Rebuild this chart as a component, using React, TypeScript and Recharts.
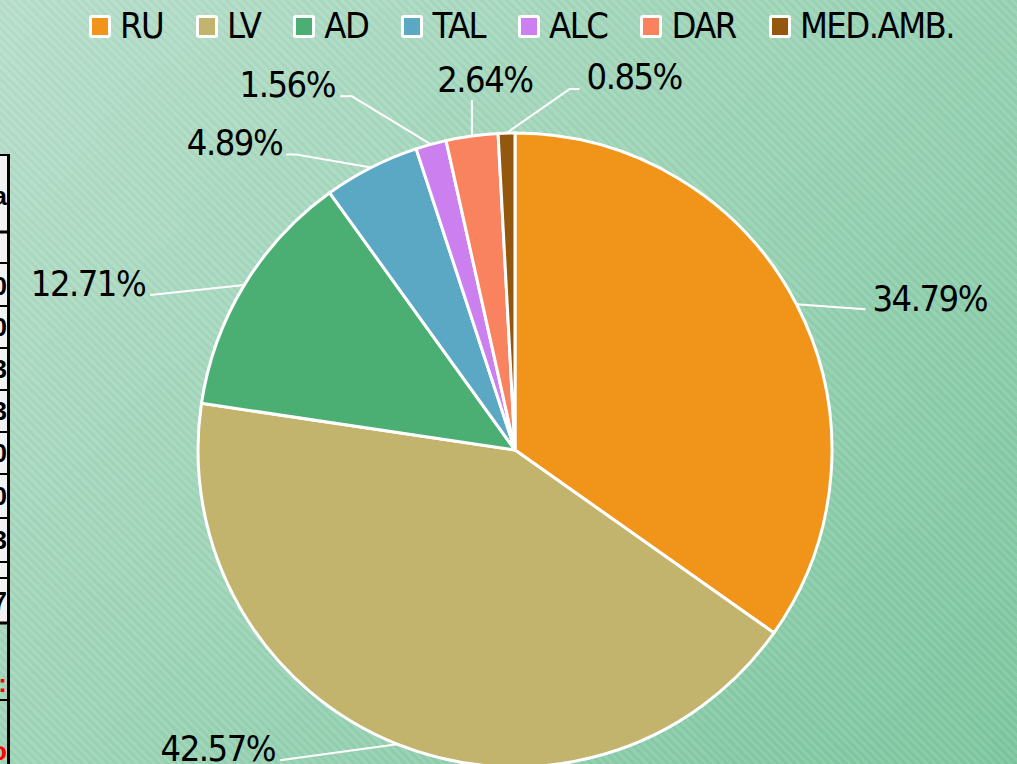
import React from 'react';
import { PieChart, Pie, Cell, Legend } from 'recharts';

const categories = ['RU', 'LV', 'AD', 'TAL', 'ALC', 'DAR', 'MED.AMB.'];
const shares = [34.79, 42.57, 12.71, 4.89, 1.56, 2.64, 0.85];
const sliceColors = ['#F0951A', '#C2B46C', '#4BAF74', '#5AA8C3', '#CC80F0', '#F9825F', '#93570E'];

const pieData = categories.map((name, i) => ({ name, value: shares[i] }));

// label leader layout: offsets relative to the slice's outer-edge midpoint
const labelLayout = [
  { pts: [[69, 5]], tx: 76, ty: 7, anchor: 'start' },
  { pts: [[-117, 16]], tx: -122, ty: 17, anchor: 'end' },
  { pts: [[-94, 10]], tx: -99, ty: 11, anchor: 'end' },
  { pts: [[-75, -13], [-85, -13]], tx: -89, ty: -12, anchor: 'end' },
  { pts: [[-79, -48], [-91, -48]], tx: -96, ty: -47, anchor: 'end' },
  { pts: [[0, -36]], tx: 13, ty: -44, anchor: 'middle' },
  { pts: [[63, -44], [73, -44]], tx: 80, ty: -44, anchor: 'start' },
];

const FONT = "'DejaVu Sans Condensed', 'DejaVu Sans', sans-serif";
const RADIAN = Math.PI / 180;

const renderLabel = (props: any) => {
  const { cx, cy, midAngle, outerRadius, index, value } = props;
  const ex = cx + outerRadius * Math.cos(-midAngle * RADIAN);
  const ey = cy + outerRadius * Math.sin(-midAngle * RADIAN);
  const lay = labelLayout[index];
  const points = [[ex, ey], ...lay.pts.map(([dx, dy]) => [ex + dx, ey + dy])];
  return (
    <g key={`lbl-${index}`}>
      <polyline
        points={points.map((p) => p.join(',')).join(' ')}
        fill="none"
        stroke="#ffffff"
        strokeWidth={2}
      />
      <text
        x={ex + lay.tx}
        y={ey + lay.ty}
        textAnchor={lay.anchor as any}
        fontFamily={FONT}
        fontSize={36}
        letterSpacing={-1.5}
        fill="#000000"
      >
        {`${Number(value).toFixed(2)}%`}
      </text>
    </g>
  );
};

const renderLegend = (props: any) => {
  const payload = [...(props.payload || [])].sort(
    (a: any, b: any) => categories.indexOf(a.value) - categories.indexOf(b.value)
  );
  return (
    <div
      style={{
        display: 'flex',
        justifyContent: 'center',
        alignItems: 'center',
        paddingLeft: 26,
        paddingTop: 8,
        fontFamily: FONT,
        fontSize: 36,
        letterSpacing: -1.5,
        lineHeight: '36px',
        color: '#000',
      }}
    >
      {payload.map((entry: any, i: number) => (
        <div key={i} style={{ display: 'flex', alignItems: 'center', marginRight: i < payload.length - 1 ? 33 : 0 }}>
          <span
            style={{
              display: 'inline-block',
              width: 22,
              height: 23,
              boxSizing: 'border-box',
              border: '3px solid #ffffff',
              borderRadius: 3,
              background: entry.color,
              marginRight: 9,
            }}
          />
          <span>{entry.value}</span>
        </div>
      ))}
    </div>
  );
};

const tableLines = [155, 232, 263, 306, 348, 390, 432, 474, 518, 562, 578, 623, 700];
const thickLines = [232, 623];
const tableChars = [
  { ch: 'a', y: 205, red: false },
  { ch: '0', y: 295, red: false },
  { ch: '0', y: 336, red: false },
  { ch: '3', y: 378, red: false },
  { ch: '3', y: 420, red: false },
  { ch: '0', y: 462, red: false },
  { ch: '0', y: 505, red: false },
  { ch: '3', y: 549, red: false },
  { ch: '7', y: 610, red: false },
  { ch: ':', y: 692, red: true },
  { ch: 'o', y: 760, red: true },
];

export default function App() {
  return (
    <div
      style={{
        position: 'fixed',
        left: 0,
        top: 0,
        width: 1017,
        height: 764,
        overflow: 'hidden',
        background:
          'repeating-linear-gradient(45deg, rgba(255,255,255,0.07) 0px, rgba(255,255,255,0.07) 3px, rgba(0,0,0,0.02) 3px, rgba(0,0,0,0.02) 6px), linear-gradient(135deg, #b8dfcc 0%, #9ed5b8 45%, #7dc7a0 100%)',
      }}
    >
      <svg width={14} height={764} style={{ position: 'absolute', left: 0, top: 0 }}>
        <rect x={0} y={155} width={8} height={468} fill="#f2f2f2" />
        {tableLines.map((y, i) => (
          <line key={i} x1={0} x2={9} y1={y} y2={y} stroke="#000" strokeWidth={thickLines.includes(y) ? 3 : 2} />
        ))}
        <line x1={8.5} x2={8.5} y1={154} y2={764} stroke="#000" strokeWidth={3} />
        {tableChars.map((c, i) => (
          <text
            key={i}
            x={7}
            y={c.y}
            textAnchor="end"
            fontFamily="'Liberation Sans', Arial, sans-serif"
            fontWeight="bold"
            fontSize={26}
            fill={c.red ? '#ff0000' : '#000'}
          >
            {c.ch}
          </text>
        ))}
      </svg>
      <PieChart width={1017} height={764} margin={{ top: 0, right: 0, bottom: 0, left: 0 }} style={{ position: 'absolute', left: 0, top: 0 }}>
        <Legend
          verticalAlign="top"
          align="center"
          content={renderLegend}
          wrapperStyle={{ top: 0, left: 0, width: 1017, height: 1, overflow: 'visible' }}
        />
        <Pie
          data={pieData}
          dataKey="value"
          nameKey="name"
          cx={515}
          cy={449}
          outerRadius={317}
          startAngle={90}
          endAngle={-270}
          stroke="#ffffff"
          strokeWidth={3}
          label={renderLabel}
          labelLine={false}
          isAnimationActive={false}
        >
          {pieData.map((d, i) => (
            <Cell key={d.name} fill={sliceColors[i]} />
          ))}
        </Pie>
      </PieChart>
    </div>
  );
}
